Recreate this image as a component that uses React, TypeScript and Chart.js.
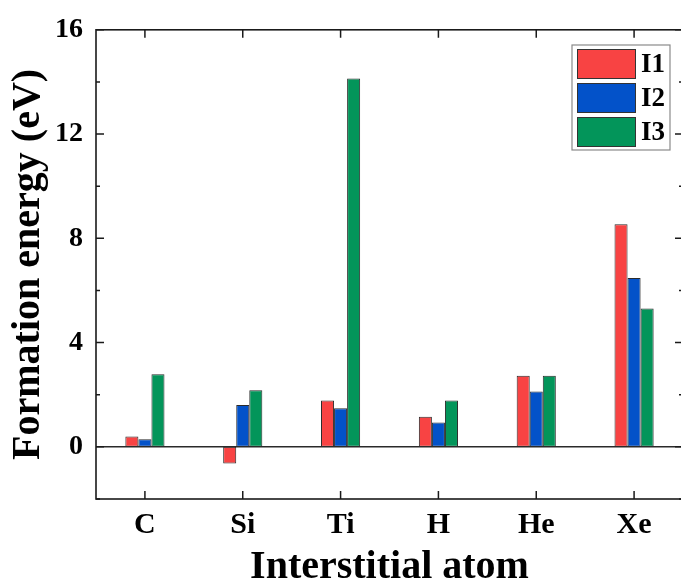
import React, { useEffect, useRef } from "react";
import { Chart, registerables } from "chart.js";

Chart.register(...registerables);

const categories = ["C", "Si", "Ti", "H", "He", "Xe"];
const seriesNames = ["I1", "I2", "I3"];
const I1 = [0.4, -0.64, 1.78, 1.16, 2.73, 8.54];
const I2 = [0.29, 1.61, 1.48, 0.93, 2.12, 6.48];
const I3 = [2.79, 2.17, 14.13, 1.78, 2.73, 5.31];
const colors = ["#F84343", "#0352C9", "#03955A"];
const yTickLabels = [0, 4, 8, 12, 16];

const FONT = "'Liberation Serif', 'Times New Roman', serif";

const framePlugin = {
  id: "frameTicks",
  afterDatasetsDraw(chart: any) {
    const { ctx, chartArea, scales } = chart;
    const x = scales.x;
    const y = scales.y;
    const { left, right, top, bottom } = chartArea;
    ctx.save();
    // zero line
    ctx.strokeStyle = "#2a2a2a";
    ctx.lineWidth = 1.5;
    const y0 = y.getPixelForValue(0);
    ctx.beginPath();
    ctx.moveTo(left, y0);
    ctx.lineTo(right, y0);
    ctx.stroke();
    // frame
    ctx.strokeStyle = "#1a1a1a";
    ctx.lineWidth = 1.6;
    ctx.strokeRect(left, top, right - left, bottom - top);
    // y ticks
    ctx.lineWidth = 1.5;
    y.ticks.forEach((t: any) => {
      const v = t.value;
      const py = y.getPixelForValue(v);
      const len = yTickLabels.includes(v) ? 8 : 4;
      ctx.beginPath();
      ctx.moveTo(left, py);
      ctx.lineTo(left + len, py);
      ctx.moveTo(right, py);
      ctx.lineTo(right - len, py);
      ctx.stroke();
    });
    // x ticks
    categories.forEach((_c, i) => {
      const px = x.getPixelForTick(i);
      ctx.beginPath();
      ctx.moveTo(px, bottom);
      ctx.lineTo(px, bottom - 8);
      ctx.moveTo(px, top);
      ctx.lineTo(px, top + 8);
      ctx.stroke();
    });
    ctx.restore();
  },
  afterDraw(chart: any) {
    const { ctx } = chart;
    ctx.save();
    const bx = 572, by = 45, bw = 98, bh = 105;
    ctx.fillStyle = "#ffffff";
    ctx.fillRect(bx, by, bw, bh);
    ctx.strokeStyle = "#8a8a8a";
    ctx.lineWidth = 1.2;
    ctx.strokeRect(bx, by, bw, bh);
    chart.data.datasets.forEach((ds: any, i: number) => {
      const sy = 49 + i * 34;
      ctx.fillStyle = ds.backgroundColor;
      ctx.fillRect(577, sy, 59, 30);
      ctx.strokeStyle = "#333333";
      ctx.lineWidth = 1;
      ctx.strokeRect(577.5, sy + 0.5, 58, 29);
      ctx.fillStyle = "#000000";
      ctx.font = `bold 27px ${FONT}`;
      ctx.textAlign = "left";
      ctx.textBaseline = "middle";
      ctx.fillText(ds.label, 641, sy + 16);
    });
    ctx.restore();
  },
};

export default function App() {
  const ref = useRef<HTMLCanvasElement>(null);
  useEffect(() => {
    const canvas = ref.current!;
    const data = [I1, I2, I3];
    const chart = new Chart(canvas, {
      type: "bar",
      data: {
        labels: categories,
        datasets: seriesNames.map((name, i) => ({
          label: name,
          data: data[i],
          backgroundColor: colors[i],
          borderColor: "#2b2b2b",
          borderWidth: 1,
          borderSkipped: false,
          categoryPercentage: 0.4,
          barPercentage: 1,
        })),
      },
      options: {
        responsive: false,
        animation: false,
        devicePixelRatio: 1,
        layout: { padding: { top: 24, right: 7, left: 0, bottom: 0 } },
        plugins: {
          legend: { display: false },
          tooltip: { enabled: false },
        },
        scales: {
          x: {
            type: "category",
            offset: true,
            grid: { display: false, drawTicks: false },
            border: { display: false },
            ticks: {
              color: "#000",
              padding: 8,
              font: { family: FONT, size: 30, weight: "bold" },
              maxRotation: 0,
            },
            title: {
              display: true,
              text: "Interstitial atom",
              color: "#000",
              font: { family: FONT, size: 40, weight: "bold", lineHeight: 1 },
              padding: { top: 0, bottom: -5 },
            },
            afterFit: (s: any) => {
              s.height = 84;
            },
          },
          y: {
            min: -2,
            max: 16,
            grid: { display: false, drawTicks: false },
            border: { display: false },
            ticks: {
              stepSize: 2,
              color: "#000",
              padding: 13,
              font: { family: FONT, size: 28, weight: "bold" },
              callback: (v: any) => (yTickLabels.includes(Number(v)) ? String(v) : ""),
            },
            title: {
              display: true,
              text: "Formation energy (eV)",
              color: "#000",
              font: { family: FONT, size: 40, weight: "bold", lineHeight: 1 },
              padding: { top: 9, bottom: 0 },
            },
            afterFit: (s: any) => {
              s.width = 96;
            },
          },
        },
      },
      plugins: [framePlugin],
    });
    return () => chart.destroy();
  }, []);
  return (
    <div
      style={{
        position: "fixed",
        left: 0,
        top: 0,
        width: 681,
        height: 583,
        overflow: "hidden",
        background: "#fff",
      }}
    >
      <canvas ref={ref} width={690} height={583} style={{ display: "block", width: 690, height: 583 }} />
    </div>
  );
}
